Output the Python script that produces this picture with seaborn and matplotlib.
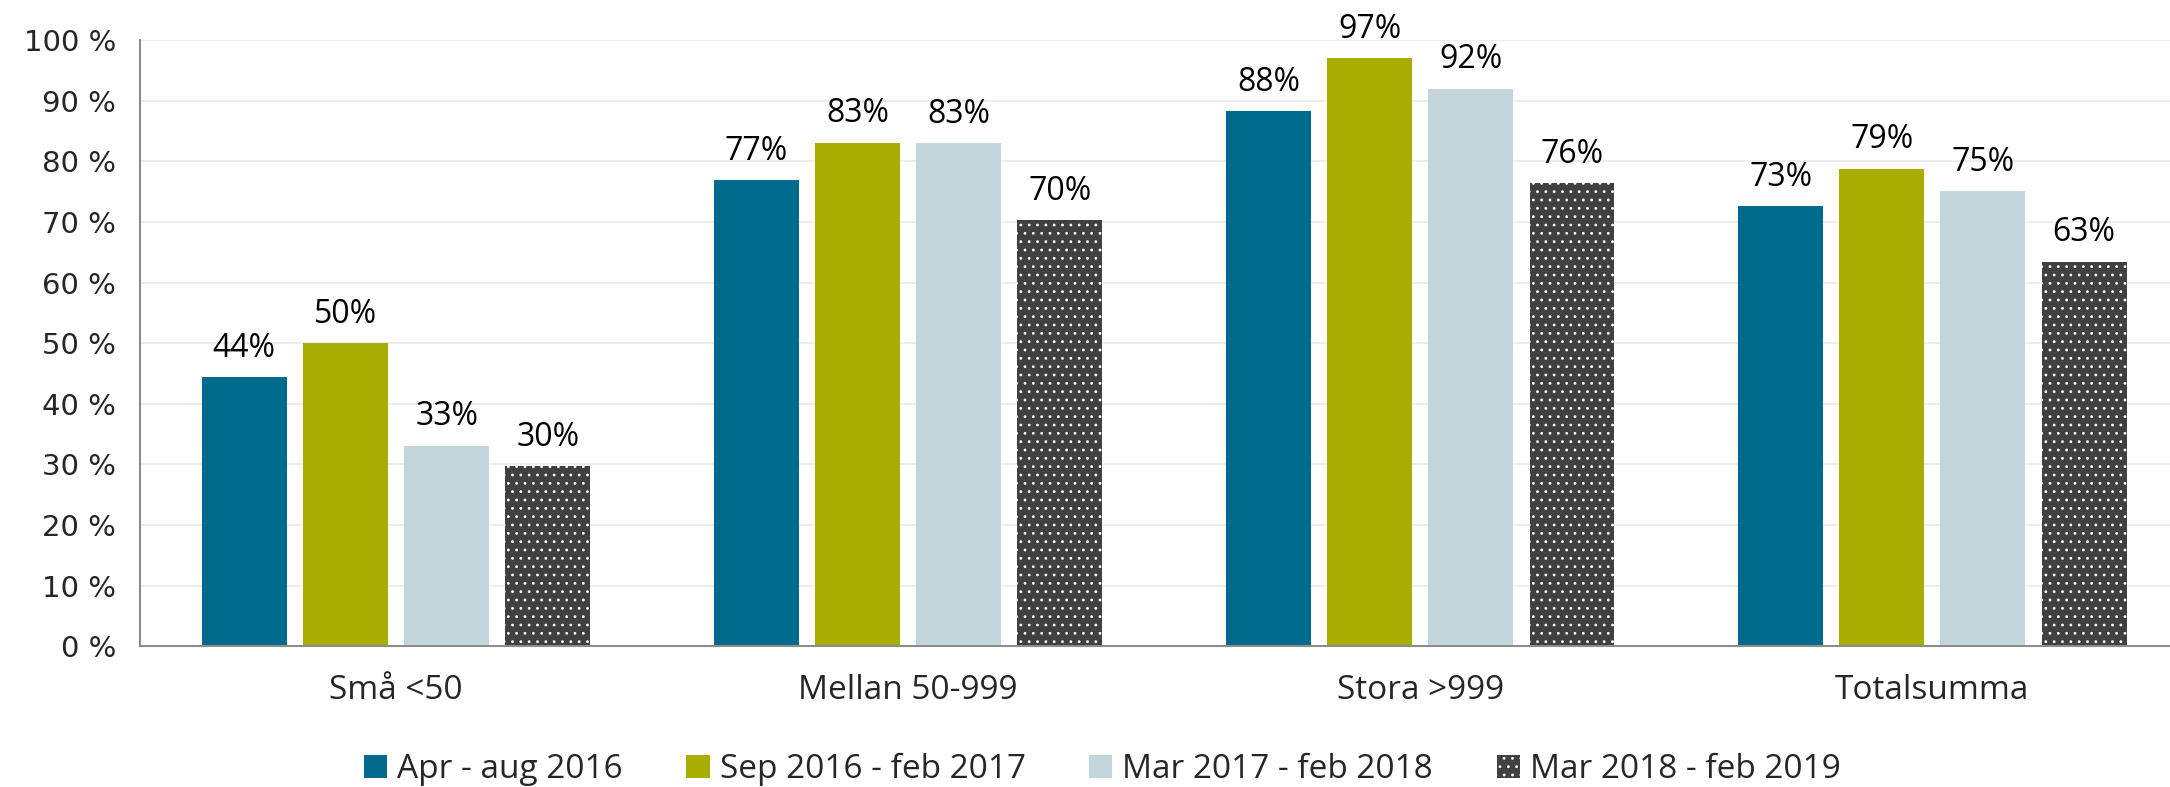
import numpy as np
import pandas as pd
import matplotlib
matplotlib.use("Agg")
import matplotlib.pyplot as plt
import seaborn as sns

categories = ["Små <50", "Mellan 50-999", "Stora >999", "Totalsumma"]
periods = ["Apr - aug 2016", "Sep 2016 - feb 2017", "Mar 2017 - feb 2018", "Mar 2018 - feb 2019"]
apr_aug_2016 = [44.4, 76.9, 88.3, 72.6]
sep16_feb17 = [50.0, 83.1, 97.0, 78.8]
mar17_feb18 = [33.1, 83.0, 92.0, 75.1]
mar18_feb19 = [29.7, 70.3, 76.4, 63.4]
colors = ["#006B8C", "#A8AD00", "#C4D6DC", "#404040"]

series = [apr_aug_2016, sep16_feb17, mar17_feb18, mar18_feb19]
rows = []
for period, vals in zip(periods, series):
    for cat, v in zip(categories, vals):
        rows.append({"Kategori": cat, "Period": period, "Andel": v})
df = pd.DataFrame(rows)

sns.set_style("white")
plt.rcParams["font.family"] = ["Open Sans", "DejaVu Sans"]
plt.rcParams["hatch.color"] = "white"
plt.rcParams["hatch.linewidth"] = 0.8

fig = plt.figure(figsize=(21.7, 7.87), dpi=100)
ax = fig.add_axes([0.0645, 0.179, 0.944, 0.770])

sns.barplot(data=df, x="Kategori", y="Andel", hue="Period", order=categories,
            hue_order=periods, palette=colors, saturation=1, width=0.79, gap=0.16,
            linewidth=0, legend=False, ax=ax)

for bar in ax.containers[3]:
    bar.set_hatch("..")

for cont in ax.containers:
    ax.bar_label(cont, labels=[f"{v:.0f}%" for v in cont.datavalues], padding=9,
                 fontsize=23, color="black")

ax.set_xlim(-0.5, 3.5)
ax.set_ylim(0, 100)
ax.set_yticks(np.arange(0, 101, 10))
ax.set_yticklabels([f"{v} %" for v in range(0, 101, 10)], fontsize=21,
                   family=["DejaVu Sans"])
ax.yaxis.grid(True, color="#EDEDED", linewidth=1.5)
ax.set_axisbelow(True)
ax.set_xlabel("")
ax.set_ylabel("")

for side in ["top", "right"]:
    ax.spines[side].set_visible(False)
for side in ["left", "bottom"]:
    ax.spines[side].set_color("#8C8C8C")
    ax.spines[side].set_linewidth(1.5)

ax.tick_params(axis="y", direction="out", length=10, width=1.5, color="#8C8C8C", pad=7)
ax.tick_params(axis="x", which="major", length=0, labelsize=24, pad=20)
ax.set_xticks([-0.5, 0.5, 1.5, 2.5], minor=True)
ax.tick_params(axis="x", which="minor", direction="out", length=10, width=1.5, color="#8C8C8C")

ax.legend(ax.containers, periods, loc="center", bbox_to_anchor=(0.508, 0.022),
          bbox_transform=fig.transFigure, ncol=4, frameon=False, fontsize=24,
          handlelength=0.7, handleheight=0.7, handletextpad=0.3, columnspacing=1.9)

plt.savefig("out.png", dpi=100)
plt.close()
